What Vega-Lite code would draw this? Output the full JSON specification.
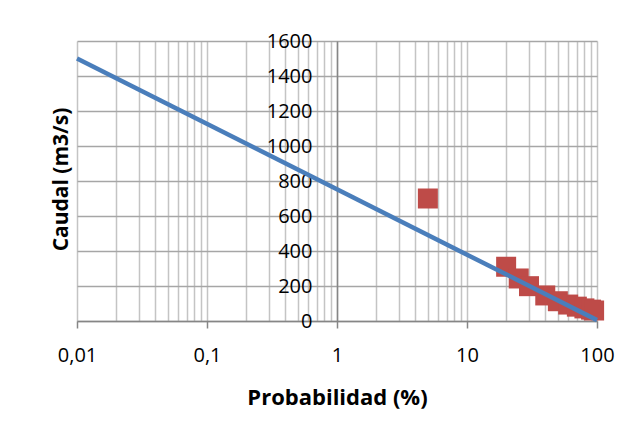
{
  "$schema": "https://vega.github.io/schema/vega-lite/v6.json",
  "width": 520,
  "height": 280,
  "autosize": "none",
  "padding": {"left": 77, "top": 41, "right": 44, "bottom": 117},
  "background": "white",
  "config": {
    "view": {"stroke": null},
    "font": "Open Sans",
    "axis": {"labelFont": "Open Sans", "titleFont": "Open Sans", "labelOverlap": false}
  },
  "datasets": {
    "obs": [
      {"prob": 5, "caudal": 700},
      {"prob": 20, "caudal": 310},
      {"prob": 25, "caudal": 243},
      {"prob": 30, "caudal": 199},
      {"prob": 40, "caudal": 146},
      {"prob": 50, "caudal": 113},
      {"prob": 60, "caudal": 94},
      {"prob": 70, "caudal": 82},
      {"prob": 80, "caudal": 72},
      {"prob": 90, "caudal": 65},
      {"prob": 95, "caudal": 60}
    ],
    "trend": [
      {"prob": 0.01, "caudal": 1500},
      {"prob": 100, "caudal": 5}
    ]
  },
  "layer": [
    {
      "data": {"name": "obs"},
      "mark": {"type": "point", "shape": "square", "filled": true, "size": 400, "color": "#be4b48", "opacity": 1},
      "encoding": {
        "x": {
          "field": "prob", "type": "quantitative",
          "scale": {"type": "log", "domain": [0.01, 100], "nice": false},
          "axis": {
            "title": "Probabilidad (%)",
            "titleFontSize": 22, "titleFontWeight": "bold", "titleColor": "#000000",
            "titleY": 76, "titleBaseline": "middle",
            "tickCount": 100,
            "values": [0.01,0.02,0.03,0.04,0.05,0.06,0.07,0.08,0.09,0.1,0.2,0.3,0.4,0.5,0.6,0.7,0.8,0.9,1,2,3,4,5,6,7,8,9,10,20,30,40,50,60,70,80,90,100],
            "labelExpr": "indexof([0.01,0.1,1,10,100], datum.value) >= 0 ? replace(toString(datum.value), '.', ',') : ''",
            "labelFontSize": 20, "labelColor": "#000000", "labelOverlap": false, "labelFlush": false,
            "labelBaseline": "middle", "labelPadding": 27,
            "tickSize": 7, "tickColor": "#868686", "tickWidth": 1.5,
            "tickOpacity": {"condition": {"test": "indexof([0.01,0.1,1,10,100], datum.value) >= 0", "value": 1}, "value": 0},
            "domainColor": "#868686", "domainWidth": 1.5,
            "grid": true, "gridColor": "#c4c4c4", "gridWidth": 1.5
          }
        },
        "y": {
          "field": "caudal", "type": "quantitative",
          "scale": {"domain": [0, 1600], "nice": false},
          "axis": {
            "title": "Caudal (m3/s)",
            "titleFontSize": 21, "titleFontWeight": "bold", "titleColor": "#000000",
            "titleAngle": -90, "titleX": -276, "titleY": 138, "titleAlign": "center", "titleBaseline": "middle",
            "offset": -260,
            "tickCount": 20,
            "values": [0,200,400,600,800,1000,1200,1400,1600],
            "format": "d",
            "labelFontSize": 20, "labelColor": "#000000", "labelFlush": false, "labelOverlap": false,
            "labelPadding": 25, "labelBaseline": "middle",
            "ticks": false,
            "domainColor": "#868686", "domainWidth": 1.5,
            "grid": true, "gridColor": "#a6a6a6", "gridWidth": 1.5
          }
        }
      }
    },
    {
      "data": {"name": "trend"},
      "mark": {"type": "line", "color": "#4a7ebb", "strokeWidth": 4.5},
      "encoding": {
        "x": {"field": "prob", "type": "quantitative"},
        "y": {"field": "caudal", "type": "quantitative"}
      }
    }
  ]
}
